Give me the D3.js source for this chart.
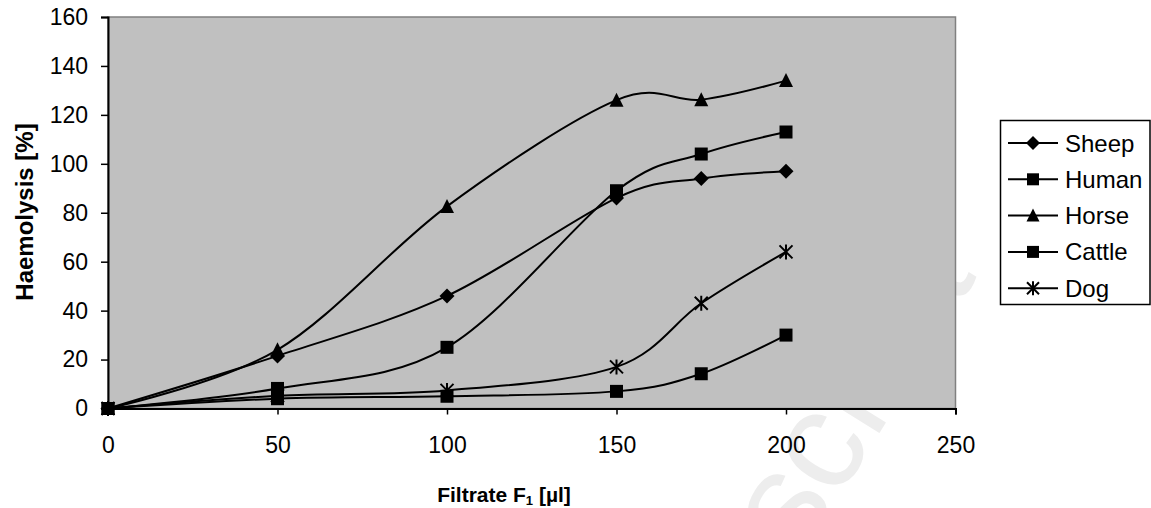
<!DOCTYPE html>
<html>
<head>
<meta charset="utf-8">
<script src="https://cdn.jsdelivr.net/npm/d3@7"></script>
<style>
	body { margin: 0; background: #ffffff; }
	svg { display: block; font-family: "Liberation Sans", Arial, sans-serif; }
</style>
</head>
<body>
<div id="viz"></div>
<script>

// filtrate volumes (x values)
var filtrate = [0, 50, 100, 150, 175, 200];

// haemolysis per species
var sheep  = [0, 21.5, 46, 86, 94, 97];
var human  = [0, 4, 5, 7, 14.2, 30];
var horse  = [0, 24, 82.6, 126, 126.2, 134];
var cattle = [0, 8.2, 25, 89, 104, 113];
var dog    = [0, 5.2, 7.4, 17, 43, 64];

var seriesNames = ["Sheep", "Human", "Horse", "Cattle", "Dog"];
var seriesValues = [sheep, human, horse, cattle, dog];
var seriesMarkers = ["diamond", "square", "triangle", "square", "star"];

var xTicks = [0, 50, 100, 150, 200, 250];
var yTicks = [0, 20, 40, 60, 80, 100, 120, 140, 160];

var width = 1151, height = 508;

var svg = d3.select("#viz")
	.append("svg")
	.attr("width", width)
	.attr("height", height);

var x = d3.scaleLinear().domain([0, 250]).range([108, 955.5]);
var y = d3.scaleLinear().domain([0, 160]).range([408.5, 17]);

// faint watermark behind everything
svg.append("text")
	.attr("transform", "translate(800,560) rotate(-58)")
	.style("font-size", "140px")
	.style("fill", "#ededed")
	.text("script");

// plot area
svg.append("rect")
	.attr("x", x(0))
	.attr("y", y(160))
	.attr("width", x(250) - x(0))
	.attr("height", y(0) - y(160))
	.style("fill", "#c0c0c0")
	.style("stroke", "#808080")
	.style("stroke-width", 1.5);

// axes
var xAxis = d3.axisBottom(x).tickValues(xTicks).tickSize(6).tickPadding(22);
var yAxis = d3.axisLeft(y).tickValues(yTicks).tickSize(7).tickPadding(13);

var gx = svg.append("g")
	.attr("transform", "translate(0," + y(0) + ")")
	.call(xAxis);
var gy = svg.append("g")
	.attr("transform", "translate(" + x(0) + ",0)")
	.call(yAxis);

[gx, gy].forEach(function(g){
	g.select(".domain").style("stroke", "#000").style("stroke-width", 2);
	g.selectAll(".tick line").style("stroke", "#000").style("stroke-width", 1.5);
	g.selectAll(".tick text")
		.style("font-size", "23px")
		.style("fill", "#000")
		.style("font-family", "Liberation Sans, Arial, sans-serif");
});

// axis titles
var xTitle = svg.append("text")
	.attr("x", 504)
	.attr("y", 502)
	.attr("text-anchor", "middle")
	.style("font-size", "21px")
	.style("font-weight", "bold");
xTitle.append("tspan").text("Filtrate F");
xTitle.append("tspan").attr("dy", 3).style("font-size", "13px").text("1");
xTitle.append("tspan").attr("dy", -3).text(" [µl]");

svg.append("text")
	.attr("transform", "translate(33," + 212 + ") rotate(-90)")
	.attr("text-anchor", "middle")
	.style("font-size", "24px")
	.style("font-weight", "bold")
	.text("Haemolysis [%]");

// marker shapes
function markerPath(kind, s){
	var h = s / 2;
	if (kind == "diamond") return "M0," + (-h - 1) + "L" + (h + 1) + ",0L0," + (h + 1) + "L" + (-h - 1) + ",0Z";
	if (kind == "square") return "M" + (-h) + "," + (-h) + "h" + s + "v" + s + "h" + (-s) + "Z";
	if (kind == "triangle") return "M0," + (-h - 1) + "L" + (h + 0.5) + "," + (h) + "L" + (-h - 0.5) + "," + (h) + "Z";
	// asterisk
	return "M" + (-h) + "," + (-h) + "L" + h + "," + h +
		"M" + (-h) + "," + h + "L" + h + "," + (-h) +
		"M0," + (-h - 1) + "L0," + (h + 1);
}

function drawMarker(g, kind, s){
	var p = g.append("path").attr("d", markerPath(kind, s));
	if (kind == "star") p.style("fill", "none").style("stroke", "#000").style("stroke-width", 2);
	else p.style("fill", "#000");
}

var line = d3.line()
	.x(function(d){ return x(d[0]); })
	.y(function(d){ return y(d[1]); })
	.curve(d3.curveCardinal.tension(0));

seriesValues.forEach(function(vals, i){
	var pts = filtrate.map(function(f, j){ return [f, vals[j]]; });

	svg.append("path")
		.datum(pts)
		.attr("d", line)
		.style("fill", "none")
		.style("stroke", "#000")
		.style("stroke-width", 2);

	pts.forEach(function(p){
		var g = svg.append("g").attr("transform", "translate(" + x(p[0]) + "," + y(p[1]) + ")");
		drawMarker(g, seriesMarkers[i], 13);
	});
});

// legend
var legend = svg.append("g");
legend.append("rect")
	.attr("x", 1000.5)
	.attr("y", 120.5)
	.attr("width", 149.5)
	.attr("height", 184)
	.style("fill", "#fff")
	.style("stroke", "#000")
	.style("stroke-width", 1.5);

seriesNames.forEach(function(name, i){
	var ly = 143 + i * 36.3;
	legend.append("line")
		.attr("x1", 1008).attr("x2", 1058)
		.attr("y1", ly).attr("y2", ly)
		.style("stroke", "#000")
		.style("stroke-width", 2);
	var g = legend.append("g").attr("transform", "translate(1033," + ly + ")");
	drawMarker(g, seriesMarkers[i], 12);
	legend.append("text")
		.attr("x", 1065)
		.attr("y", ly + 8.5)
		.style("font-size", "24px")
		.text(name);
});

</script>
</body>
</html>
